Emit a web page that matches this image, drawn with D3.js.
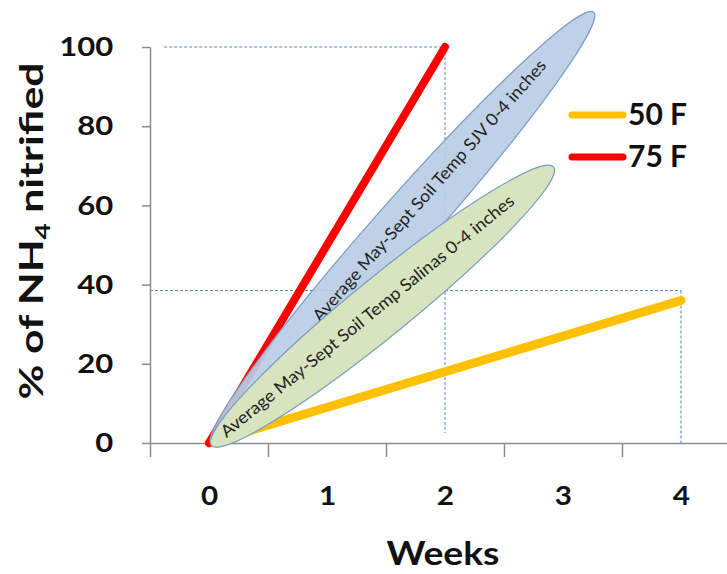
<!DOCTYPE html>
<html><head><meta charset="utf-8">
<script src="https://cdn.jsdelivr.net/npm/d3@7/dist/d3.min.js"></script>
<style>body{margin:0;background:#fff}svg{display:block}</style>
</head><body><svg id="c" width="727" height="574"></svg>
<script>
// ---- data ----
const weekLabels = [0, 1, 2, 3, 4];
const weekTickMarks = [-0.5, 0.5, 1.5, 2.5, 3.5];
const yTickValues = [0, 20, 40, 60, 80, 100];
const seriesNames = ["50 F", "75 F"];
const seriesColors = ["#FFC000", "#FF0000"];
const weeks50F = [0, 4];
const nitrified50F = [0, 36];
const weeks75F = [0, 2];
const nitrified75F = [0, 100];
// dashed guide lines: horizontal [xStart, xEnd, yLevel], vertical [xLevel, yTop, yBottom]
const guideH = [[-0.38, 2, 100], [-0.5, 4, 38.5]];
const guideV = [[2, 100, 2.5], [4, 38.5, 0]];
// annotation ellipses (data coords of the two tips)
const ellipseLabels = ["Average May-Sept Soil Temp SJV 0-4 inches", "Average May-Sept Soil Temp Salinas 0-4 inches"];
const ellipseTips = [[[0.02, -0.3], [3.26, 108.8]], [[0.02, -0.6], [2.92, 69.7]]];
const ellipseFills = ["#B9CDE5", "#D7E4BD"];

// ---- scales ----
const svg = d3.select("#c");
const x = d3.scaleLinear().domain([-0.5, 4.39]).range([150, 727]);
const y = d3.scaleLinear().domain([0, 100]).range([443, 47]);
const FONT = "Lato, 'Open Sans', sans-serif";
const axisCol = "#8C8C8C";

function stretchTo(textSel, target, pre) {
  const len = textSel.node().getComputedTextLength();
  textSel.attr("transform", `${pre || ""} scale(${target / len},1)`);
}

// dashed guides
const gGuide = svg.append("g").attr("stroke", "#5A86C2").attr("stroke-width", 1).attr("stroke-dasharray", "3,2").attr("fill", "none");
guideH.forEach(d => gGuide.append("line").attr("x1", x(d[0])).attr("x2", x(d[1])).attr("y1", y(d[2])).attr("y2", y(d[2])));
guideV.forEach(d => gGuide.append("line").attr("x1", x(d[0])).attr("x2", x(d[0])).attr("y1", y(d[1])).attr("y2", y(d[2])));

// axes
const yAxis = svg.append("g").attr("transform", `translate(${x(-0.5)},0)`)
  .call(d3.axisLeft(y).tickValues(yTickValues).tickSize(8).tickSizeOuter(0).tickPadding(24));
yAxis.selectAll("path,line").attr("stroke", axisCol).attr("stroke-width", 1.5);
yAxis.selectAll("text").attr("font-family", FONT).attr("font-weight", "bold").attr("font-size", 27).attr("fill", "#111")
  .attr("transform", "scale(1.15,1)");

const xAxis = svg.append("g").attr("transform", `translate(0,${y(0)})`)
  .call(d3.axisBottom(x).tickValues(weekTickMarks).tickSize(14).tickSizeOuter(0).tickFormat(""));
xAxis.selectAll("path,line").attr("stroke", axisCol).attr("stroke-width", 1.5);
const xLab = svg.append("g").attr("transform", `translate(0,${y(0)})`)
  .call(d3.axisBottom(x).tickValues(weekLabels).tickSize(0).tickPadding(43).tickFormat(d3.format("d")));
xLab.select(".domain").remove();
xLab.selectAll("text").attr("font-family", FONT).attr("font-weight", "bold").attr("font-size", 27).attr("fill", "#111")
  .attr("transform", "scale(1.1,1)");

// series lines
const line = d3.line().x(d => x(d[0])).y(d => y(d[1]));
const series = [d3.zip(weeks50F, nitrified50F), d3.zip(weeks75F, nitrified75F)];
svg.append("g").selectAll("path").data(series).join("path")
  .attr("d", line).attr("fill", "none").attr("stroke", (d, i) => seriesColors[i])
  .attr("stroke-width", (d, i) => i === 0 ? 9 : 8).attr("stroke-linecap", "round");

// ellipses
const ryPx = [28, 29];
const textShift = [[46, -5], [-18, -2]];
const textLen = [343, 373];
ellipseTips.forEach((t, i) => {
  const p1 = [x(t[0][0]), y(t[0][1])], p2 = [x(t[1][0]), y(t[1][1])];
  const cx = (p1[0] + p2[0]) / 2, cy = (p1[1] + p2[1]) / 2;
  const dx = p2[0] - p1[0], dy = p2[1] - p1[1];
  const len = Math.hypot(dx, dy);
  const ang = Math.atan2(dy, dx) * 180 / Math.PI;
  const g = svg.append("g").attr("transform", `translate(${cx},${cy}) rotate(${ang})`);
  g.append("ellipse").attr("rx", len / 2).attr("ry", ryPx[i])
    .attr("fill", ellipseFills[i]).attr("fill-opacity", i === 0 ? 0.92 : 1)
    .attr("stroke", "#7A9CC6").attr("stroke-width", 1.2);
  const tx = g.append("text").attr("x", 0).attr("y", 0).attr("dy", "0.35em")
    .attr("text-anchor", "middle").attr("font-family", FONT).attr("font-size", 17)
    .attr("fill", "#222").text(ellipseLabels[i]);
  stretchTo(tx, textLen[i], `translate(${textShift[i][0]},${textShift[i][1]})`);
});

// legend
const leg = svg.append("g");
seriesNames.forEach((n, i) => {
  const ly = 115 + i * 42;
  leg.append("line").attr("x1", 572).attr("x2", 623).attr("y1", ly).attr("y2", ly)
    .attr("stroke", seriesColors[i]).attr("stroke-width", 7).attr("stroke-linecap", "round");
  leg.append("text").attr("x", 628).attr("y", ly + 10).attr("font-family", FONT).attr("font-weight", "bold")
    .attr("font-size", 30).attr("fill", "#111").text(n);
});

// axis titles
const yt = svg.append("text").attr("text-anchor", "middle")
  .attr("font-family", FONT).attr("font-weight", "bold").attr("font-size", 32).attr("fill", "#111")
  .call(t => { t.append("tspan").text("% of NH"); t.append("tspan").attr("font-size", 21).attr("dy", 7).text("4");
               t.append("tspan").attr("dy", -7).text(" nitrified"); });
stretchTo(yt, 337, "translate(43,231) rotate(-90)");
const xt = svg.append("text").attr("x", 0).attr("y", 0).attr("text-anchor", "middle")
  .attr("font-family", FONT).attr("font-weight", "bold").attr("font-size", 32).attr("fill", "#111").text("Weeks");
stretchTo(xt, 113, "translate(443,565)");
</script></body></html>
